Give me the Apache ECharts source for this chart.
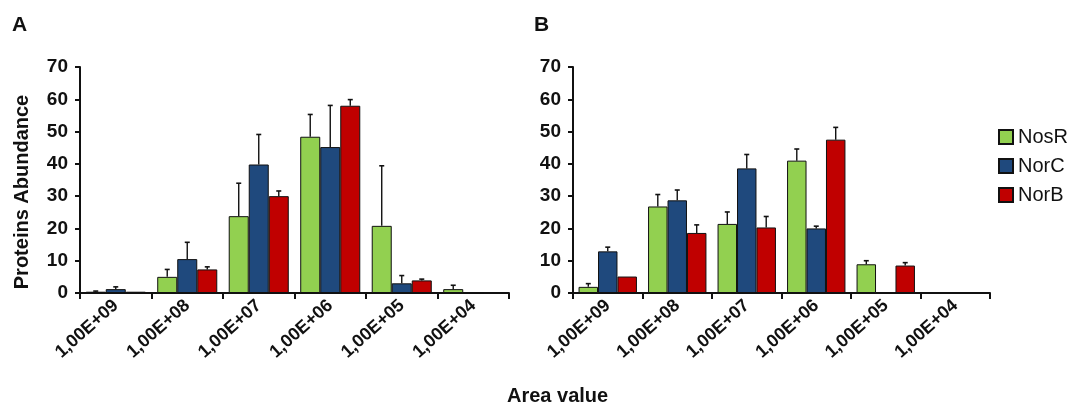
<!DOCTYPE html>
<html>
<head>
<meta charset="utf-8">
<script src="https://cdn.jsdelivr.net/npm/echarts@6/dist/echarts.min.js"></script>
<style>html,body{margin:0;padding:0;background:#fff}#c{width:1068px;height:405px}</style>
</head>
<body>
<div id="c"></div>
<script>
var categories = ['1,00E+09','1,00E+08','1,00E+07','1,00E+06','1,00E+05','1,00E+04'];
var seriesNames = ['NosR','NorC','NorB'];
var yTicks = [0,10,20,30,40,50,60,70];

// Panel A
var nosR_A = [0.4, 5.0, 23.8, 48.4, 20.8, 1.2];
var nosR_A_err = [0.2, 2.3, 10.2, 6.9, 18.6, 1.2];
var norC_A = [1.2, 10.5, 39.8, 45.2, 3.0, 0.1];
var norC_A_err = [0.7, 5.2, 9.3, 12.9, 2.4, 0];
var norB_A = [0.4, 7.3, 30.0, 58.0, 3.9, null];
var norB_A_err = [0, 0.8, 1.6, 1.9, 0.4, 0];

// Panel B
var nosR_B = [1.9, 26.8, 21.4, 41.0, 8.9, null];
var nosR_B_err = [1.0, 3.7, 3.7, 3.6, 1.1, 0];
var norC_B = [12.9, 28.7, 38.6, 20.0, null, null];
var norC_B_err = [1.3, 3.2, 4.3, 0.7, 0, 0];
var norB_B = [5.1, 18.6, 20.3, 47.5, 8.5, null];
var norB_B_err = [0, 2.5, 3.4, 3.8, 0.9, 0];

var colors = ['#92D050', '#1F497D', '#C00000'];
var BAR_FRAC = 0.28;
var FONT = 'Liberation Sans, Arial, sans-serif';

function barSeries(name, data, gi, si) {
  return {
    name: name, type: 'bar', xAxisIndex: gi, yAxisIndex: gi,
    data: data, barWidth: (BAR_FRAC * 100) + '%', barGap: '0%',
    itemStyle: { color: colors[si], borderColor: '#111', borderWidth: 1 },
    z: 2
  };
}
function errSeries(vals, errs, gi, si) {
  var d = [];
  for (var i = 0; i < vals.length; i++) {
    if (vals[i] != null && errs[i] > 0) d.push([i, vals[i], errs[i]]);
  }
  return {
    name: 'err' + gi + si, type: 'custom', xAxisIndex: gi, yAxisIndex: gi, z: 3,
    data: d, silent: true,
    renderItem: function (params, api) {
      var x = api.value(0), v = api.value(1), e = api.value(2);
      var base = api.coord([x, v]);
      var top = api.coord([x, v + e]);
      var bw = api.size([1, 0])[0] * BAR_FRAC;
      var cx = base[0] + (si - 1) * bw;
      return {
        type: 'group', children: [
          { type: 'line', shape: { x1: cx, y1: base[1], x2: cx, y2: top[1] }, style: { stroke: '#111', lineWidth: 1.4 } },
          { type: 'line', shape: { x1: cx - 2.5, y1: top[1], x2: cx + 2.5, y2: top[1] }, style: { stroke: '#111', lineWidth: 1.6 } }
        ]
      };
    }
  };
}

function xAxis(gi) {
  return {
    type: 'category', gridIndex: gi, data: categories,
    axisLine: { lineStyle: { color: '#111', width: 2 } },
    axisTick: { show: true, length: 6, lineStyle: { color: '#111', width: 2 } },
    axisLabel: { rotate: 42, margin: 10, color: '#111', fontFamily: FONT, fontWeight: 'bold', fontSize: 18 }
  };
}
function yAxis(gi) {
  return {
    type: 'value', gridIndex: gi, min: yTicks[0], max: yTicks[yTicks.length - 1], interval: yTicks[1] - yTicks[0],
    splitLine: { show: false },
    axisLine: { show: true, lineStyle: { color: '#111', width: 2 } },
    axisTick: { show: true, length: 5, lineStyle: { color: '#111', width: 2 } },
    axisLabel: { margin: 12, color: '#111', fontFamily: FONT, fontWeight: 'bold', fontSize: 19 }
  };
}

var chart = echarts.init(document.getElementById('c'), null, { renderer: 'canvas' });
chart.setOption({
  animation: false,
  backgroundColor: '#fff',
  grid: [
    { left: 80, right: 559, top: 67, bottom: 112 },
    { left: 573, right: 78, top: 67, bottom: 112 }
  ],
  legend: {
    data: seriesNames, orient: 'vertical', left: 993, top: 122,
    icon: 'rect', itemWidth: 14, itemHeight: 14, itemGap: 9,
    textStyle: { color: '#111', fontFamily: FONT, fontSize: 20 }
  },
  xAxis: [xAxis(0), xAxis(1)],
  yAxis: [yAxis(0), yAxis(1)],
  graphic: [
    { type: 'text', left: 12, top: 15, style: { text: 'A', font: 'bold 21px ' + FONT, fill: '#111' } },
    { type: 'text', left: 534, top: 15, style: { text: 'B', font: 'bold 21px ' + FONT, fill: '#111' } },
    { type: 'text', left: 507, top: 386, style: { text: 'Area value', font: 'bold 20px ' + FONT, fill: '#111' } },
    { type: 'text', x: 22, y: 192, rotation: Math.PI / 2,
      style: { text: 'Proteins Abundance', font: 'bold 20px ' + FONT, fill: '#111', align: 'center', verticalAlign: 'middle' } }
  ],
  series: [
    barSeries('NosR', nosR_A, 0, 0),
    barSeries('NorC', norC_A, 0, 1),
    barSeries('NorB', norB_A, 0, 2),
    barSeries('NosR', nosR_B, 1, 0),
    barSeries('NorC', norC_B, 1, 1),
    barSeries('NorB', norB_B, 1, 2),
    errSeries(nosR_A, nosR_A_err, 0, 0),
    errSeries(norC_A, norC_A_err, 0, 1),
    errSeries(norB_A, norB_A_err, 0, 2),
    errSeries(nosR_B, nosR_B_err, 1, 0),
    errSeries(norC_B, norC_B_err, 1, 1),
    errSeries(norB_B, norB_B_err, 1, 2)
  ]
});
</script>
</body>
</html>
